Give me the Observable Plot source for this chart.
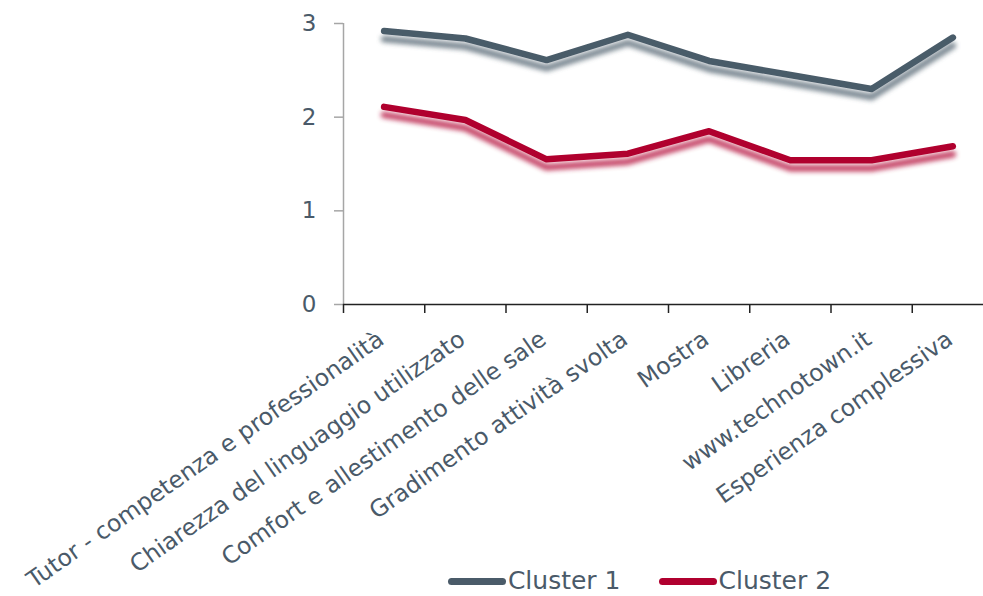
<!DOCTYPE html>
<html>
<head>
<meta charset="utf-8">
<script src="https://cdn.jsdelivr.net/npm/d3@7"></script>
<script src="https://cdn.jsdelivr.net/npm/@observablehq/plot@0.6"></script>
<style>
  html, body { margin: 0; padding: 0; background: #fff; }
  #wrap { position: relative; width: 983px; height: 596px; overflow: hidden; font-family: "DejaVu Sans", sans-serif; }
  #legend { position: absolute; left: 0; width: 983px; top: 564px; display: flex; justify-content: center; gap: 38px; padding-left: 296px; box-sizing: border-box; font-size: 25px; color: #4a5a69; line-height: 34px; }
  .item { display: flex; align-items: center; }
  .sw { display: inline-block; width: 58px; height: 7px; border-radius: 4px; margin-right: 2px; }
</style>
</head>
<body>
<div id="wrap"><div id="chart"></div><div id="legend"></div></div>
<script>
const categories = [
  "Tutor - competenza e professionalità",
  "Chiarezza del linguaggio utilizzato",
  "Comfort e allestimento delle sale",
  "Gradimento attività svolta",
  "Mostra",
  "Libreria",
  "www.technotown.it",
  "Esperienza complessiva"
];
const seriesNames = ["Cluster 1", "Cluster 2"];
const cluster1 = [2.92, 2.84, 2.61, 2.88, 2.60, 2.45, 2.30, 2.85];
const cluster2 = [2.11, 1.97, 1.55, 1.61, 1.85, 1.54, 1.54, 1.69];
const yTicks = [0, 1, 2, 3];
const colors = ["#4a5b69", "#b0002f"];

const rows = [];
[cluster1, cluster2].forEach((vals, s) => {
  vals.forEach((v, i) => rows.push({series: seriesNames[s], i: i + 0.5, value: v}));
});
const textColor = "#4a5a69";

const chart = Plot.plot({
  width: 983,
  height: 596,
  marginLeft: 343,
  marginTop: 23,
  marginBottom: 292,
  marginRight: 0,
  style: {fontFamily: "'DejaVu Sans', sans-serif", background: "#fff", overflow: "visible"},
  x: {type: "linear", domain: [0, categories.length], range: [343, 993], axis: null},
  y: {type: "linear", domain: [0, 3], axis: null},
  color: {domain: seriesNames, range: colors},
  marks: [
    Plot.ruleX([0], {y1: 0, y2: 3, stroke: "#a6a6a6", strokeWidth: 1.5}),
    Plot.ruleY(yTicks, {y: d => d, x1: 0, x2: 0, insetLeft: -9, stroke: "#a6a6a6", strokeWidth: 1.5}),
    Plot.text(yTicks, {x: 0, y: d => d, text: d => String(d), textAnchor: "end", dx: -27, fontSize: 23, fill: textColor}),
    Plot.ruleY([0], {stroke: "#222", strokeWidth: 1.5}),
    Plot.ruleX(d3.range(0, categories.length + 1), {x: d => d, y1: 0, y2: 0, insetBottom: -9, stroke: "#222", strokeWidth: 1.5}),
    Plot.text(categories, {x: (d, i) => i + 0.5, y: 0, text: d => d, rotate: -35, textAnchor: "end", dx: -3, dy: 32, fontSize: 23.5, fill: textColor}),
    Plot.line(rows, {x: "i", y: "value", z: "series", stroke: "series", strokeWidth: 6.5, strokeLinecap: "round", strokeLinejoin: "round"})
  ]
});

// drop shadow (offset, blurred copy of each line in its own colour)
const svg = d3.select(chart);
const defs = svg.insert("defs", ":first-child");
const f = defs.append("filter").attr("id", "lineShadow").attr("x", "-10%").attr("y", "-30%").attr("width", "120%").attr("height", "160%");
f.append("feOffset").attr("in", "SourceGraphic").attr("dx", 0).attr("dy", 8).attr("result", "off");
f.append("feGaussianBlur").attr("in", "off").attr("stdDeviation", 2.4).attr("result", "blur");
const ct = f.append("feComponentTransfer").attr("in", "blur").attr("result", "fade");
ct.append("feFuncA").attr("type", "linear").attr("slope", 0.75);
const merge = f.append("feMerge");
merge.append("feMergeNode").attr("in", "fade");
merge.append("feMergeNode").attr("in", "SourceGraphic");
svg.selectAll('g[aria-label="line"] path').attr("filter", "url(#lineShadow)");

document.getElementById("chart").appendChild(chart);

const legend = document.getElementById("legend");
seriesNames.forEach((name, s) => {
  const item = document.createElement("div");
  item.className = "item";
  const sw = document.createElement("span");
  sw.className = "sw";
  sw.style.background = colors[s];
  const label = document.createElement("span");
  label.textContent = name;
  item.appendChild(sw);
  item.appendChild(label);
  legend.appendChild(item);
});
</script>
</body>
</html>
